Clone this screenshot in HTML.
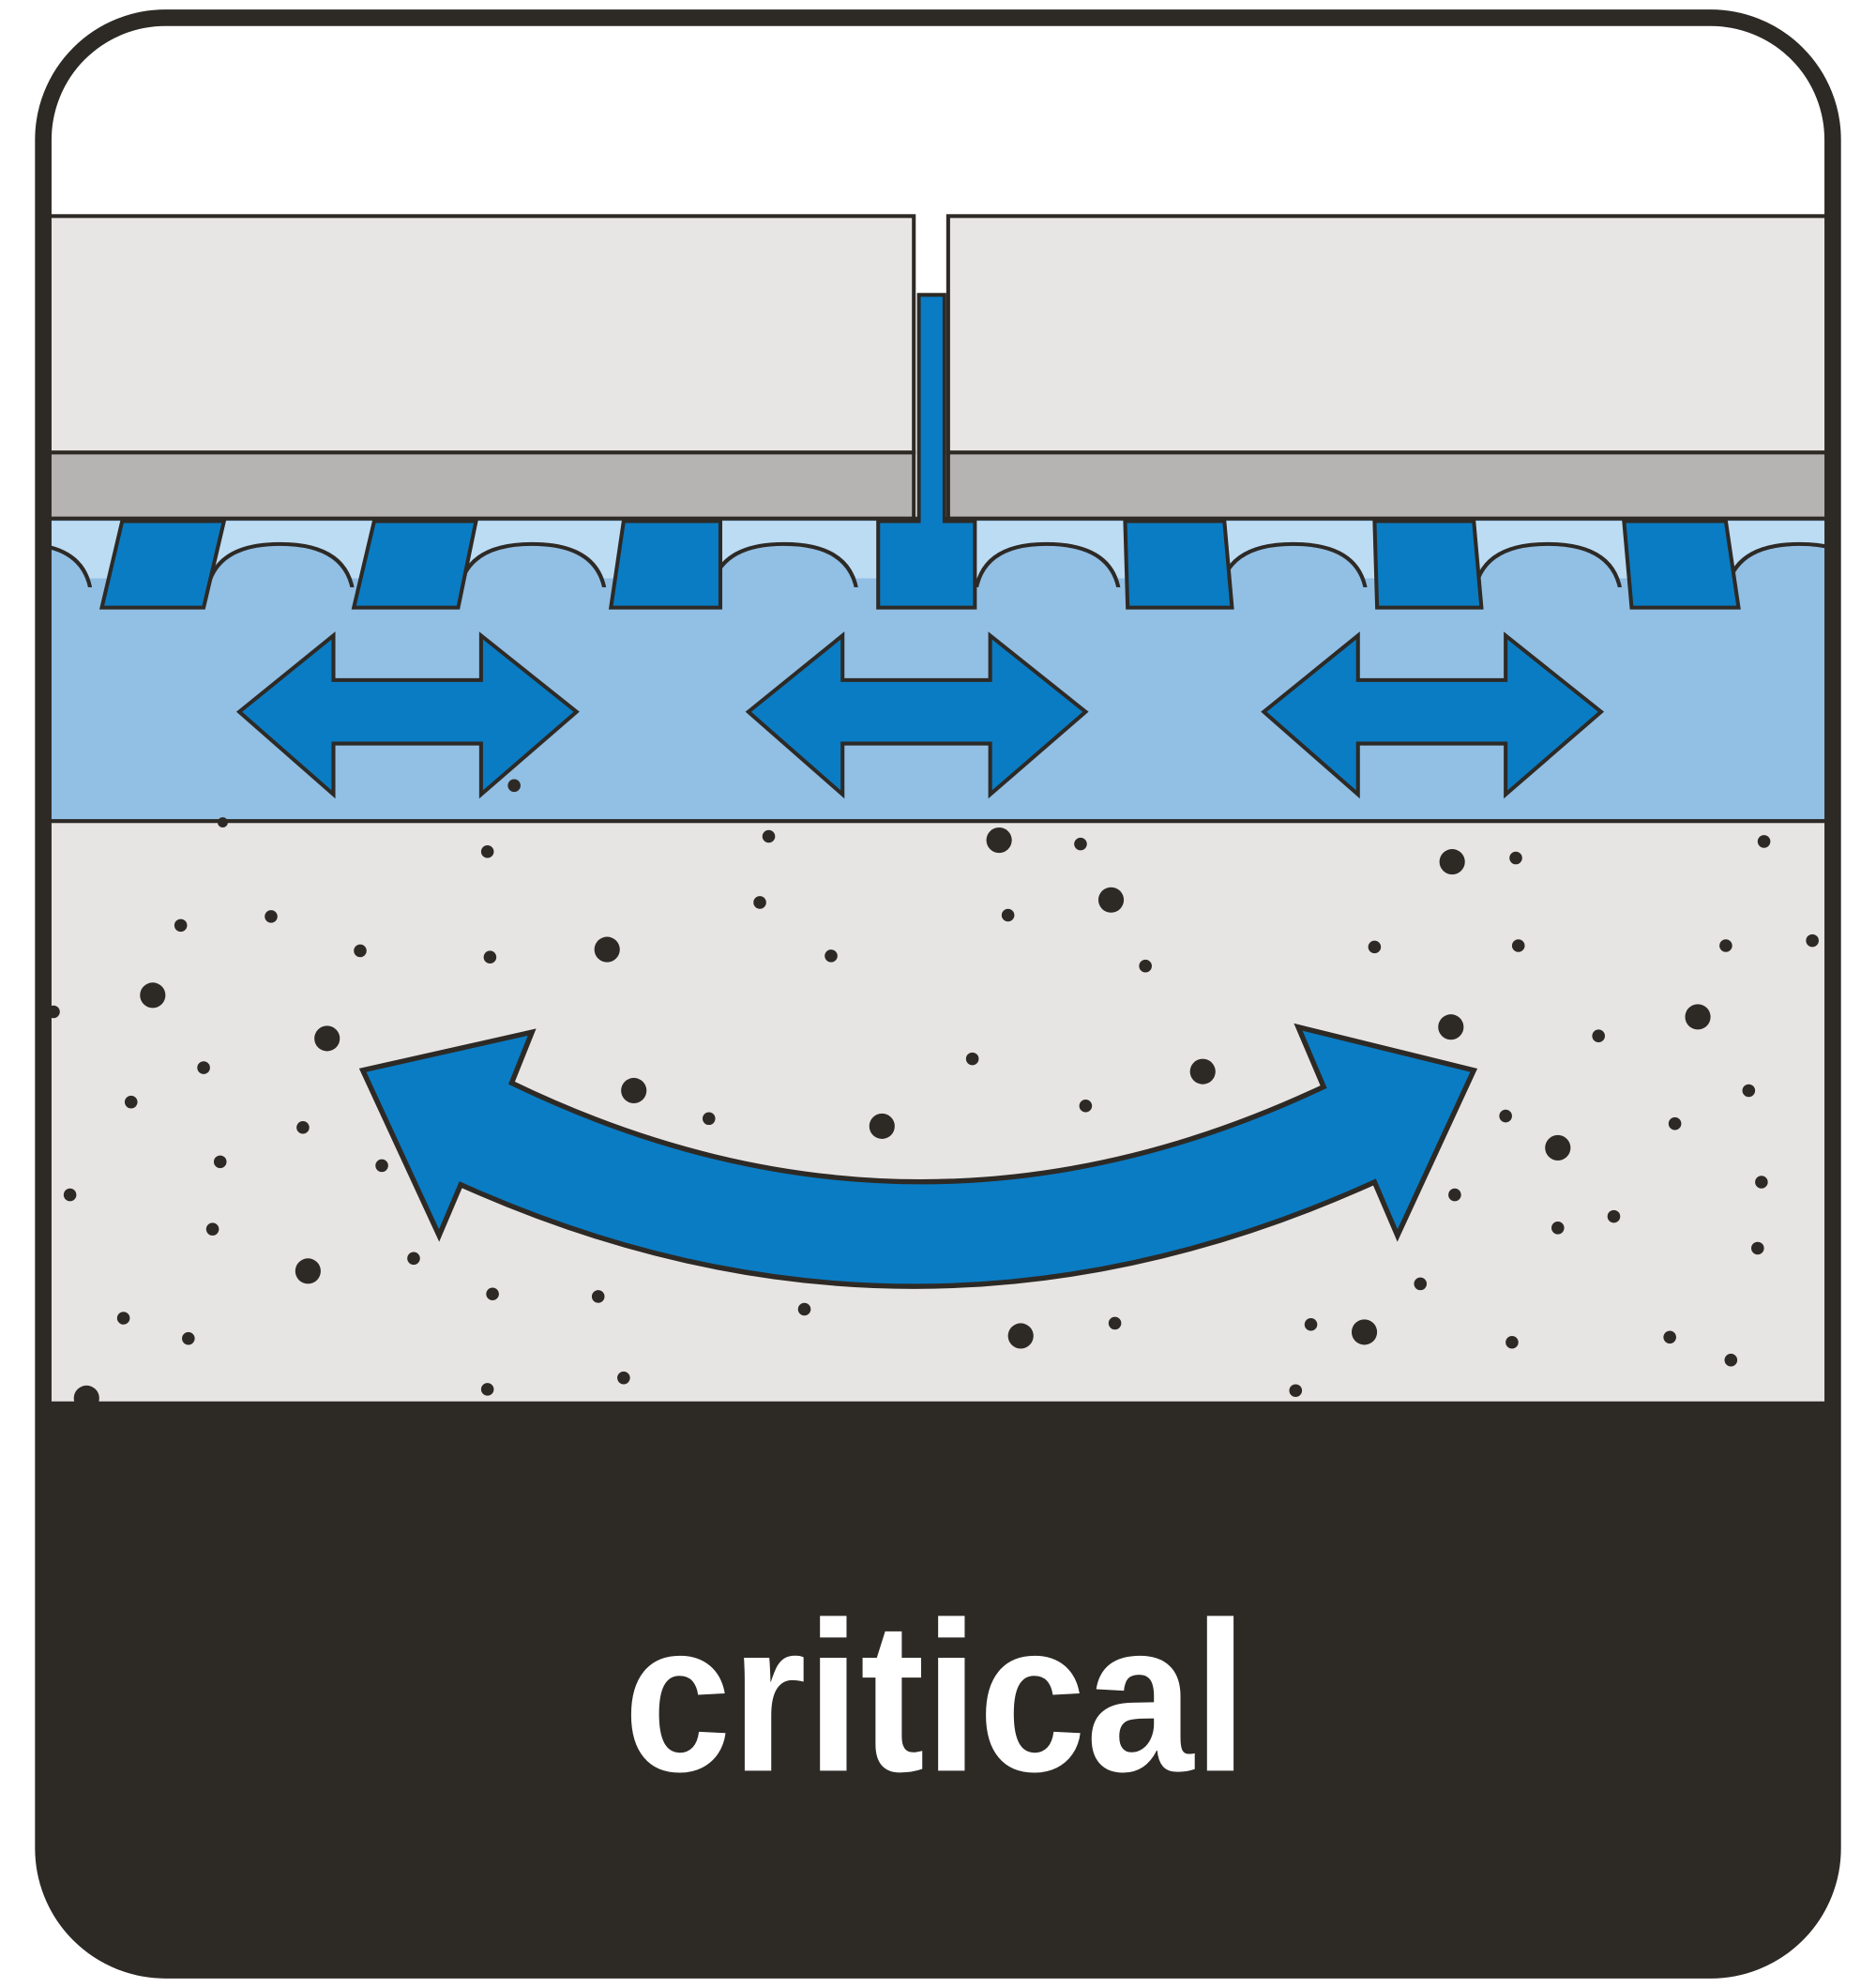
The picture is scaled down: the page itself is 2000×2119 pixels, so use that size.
<!DOCTYPE html>
<html><head><style>html,body{margin:0;padding:0;background:#fff;}svg{display:block;}</style></head>
<body>
<svg width="2000" height="2119" viewBox="0 0 1474 1564" preserveAspectRatio="none" xmlns="http://www.w3.org/2000/svg">
<defs>
<clipPath id="c"><rect x="34" y="14" width="1406" height="1536" rx="96"/></clipPath>
</defs>
<rect x="34" y="14" width="1406" height="1536" rx="96" fill="#fff"/>
<g clip-path="url(#c)">
<rect x="36" y="170" width="682" height="186" fill="#e8e6e5" stroke="#2d2a26" stroke-width="3"/>
<rect x="745" y="170" width="700" height="186" fill="#e8e6e5" stroke="#2d2a26" stroke-width="3"/>
<rect x="36" y="356" width="682" height="52" fill="#b6b4b3" stroke="#2d2a26" stroke-width="3"/>
<rect x="745" y="356" width="700" height="52" fill="#b6b4b3" stroke="#2d2a26" stroke-width="3"/>
<rect x="36" y="408" width="1410" height="238" fill="#92bfe4" stroke="#2d2a26" stroke-width="3"/>
<rect x="36" y="410" width="1410" height="45" fill="#bcdcf4"/>
<g fill="#92bfe4" stroke="#2d2a26" stroke-width="3">
<path d="M-40,475 Q-40,428 16,428 Q72,428 72,475 Z"/>
<path d="M162,475 Q162,428 220,428 Q278,428 278,475 Z"/>
<path d="M360,475 Q360,428 418,428 Q476,428 476,475 Z"/>
<path d="M558,475 Q558,428 616,428 Q674,428 674,475 Z"/>
<path d="M766,475 Q766,428 822,428 Q880,428 880,475 Z"/>
<path d="M958,475 Q958,428 1016,428 Q1074,428 1074,475 Z"/>
<path d="M1158,475 Q1158,428 1216,428 Q1274,428 1274,475 Z"/>
<path d="M1356,475 Q1356,428 1414,428 Q1472,428 1472,475 Z"/>
</g>
<rect x="36" y="462" width="1410" height="30" fill="#92bfe4"/>
<g fill="#0a7cc4" stroke="#2d2a26" stroke-width="3">
<path d="M96,410 L176,410 L160,478 L80,478 Z"/>
<path d="M294,410 L374,410 L360,478 L278,478 Z"/>
<path d="M490,410 L566,410 L566,478 L480,478 Z"/>
<path d="M884,410 L962,410 L968,478 L886,478 Z"/>
<path d="M1080,410 L1158,410 L1164,478 L1082,478 Z"/>
<path d="M1276,410 L1356,410 L1366,478 L1282,478 Z"/>
</g>
<path d="M722,232 L742,232 L742,410 L766,410 L766,478 L690,478 L690,410 L722,410 Z" fill="#0a7cc4" stroke="#2d2a26" stroke-width="3"/>
<rect x="723.5" y="234" width="17" height="180" fill="#0a7cc4"/>
<g fill="#0a7cc4" stroke="#2d2a26" stroke-width="3">
<path d="M188,560 L262,500 L262,535 L378,535 L378,500 L453,560 L378,625 L378,585 L262,585 L262,625 Z"/>
<path d="M588,560 L662,500 L662,535 L778,535 L778,500 L853,560 L778,625 L778,585 L662,585 L662,625 Z"/>
<path d="M993,560 L1067,500 L1067,535 L1183,535 L1183,500 L1258,560 L1183,625 L1183,585 L1067,585 L1067,625 Z"/>
</g>
<rect x="36" y="646" width="1410" height="458" fill="#e7e5e4" stroke="#2d2a26" stroke-width="3"/>
<g fill="#2d2a26">
<circle cx="785" cy="661" r="10"/><circle cx="1141" cy="678" r="10"/><circle cx="873" cy="708" r="10"/>
<circle cx="477" cy="747" r="10"/><circle cx="120" cy="783" r="10"/><circle cx="257" cy="817" r="10"/>
<circle cx="1140" cy="808" r="10"/><circle cx="1334" cy="800" r="10"/><circle cx="945" cy="843" r="10"/>
<circle cx="498" cy="858" r="10"/><circle cx="693" cy="886" r="10"/><circle cx="1224" cy="903" r="10"/>
<circle cx="242" cy="1000" r="10"/><circle cx="802" cy="1051" r="10"/><circle cx="1072" cy="1048" r="10"/>
<circle cx="68" cy="1100" r="10"/>
<circle cx="604" cy="658" r="5"/><circle cx="849" cy="664" r="5"/><circle cx="1191" cy="675" r="5"/><circle cx="1386" cy="662" r="5"/>
<circle cx="383" cy="670" r="5"/><circle cx="597" cy="710" r="5"/><circle cx="792" cy="720" r="5"/><circle cx="213" cy="721" r="5"/>
<circle cx="142" cy="728" r="5"/><circle cx="283" cy="748" r="5"/><circle cx="385" cy="753" r="5"/><circle cx="653" cy="752" r="5"/>
<circle cx="900" cy="760" r="5"/><circle cx="1080" cy="745" r="5"/><circle cx="1193" cy="744" r="5"/><circle cx="1356" cy="744" r="5"/>
<circle cx="1424" cy="740" r="5"/><circle cx="42" cy="796" r="5"/><circle cx="1256" cy="815" r="5"/><circle cx="764" cy="833" r="5"/>
<circle cx="160" cy="840" r="5"/><circle cx="1374" cy="858" r="5"/><circle cx="103" cy="867" r="5"/><circle cx="557" cy="880" r="5"/>
<circle cx="853" cy="870" r="5"/><circle cx="1183" cy="878" r="5"/><circle cx="238" cy="887" r="5"/><circle cx="1316" cy="884" r="5"/>
<circle cx="173" cy="914" r="5"/><circle cx="300" cy="917" r="5"/><circle cx="1384" cy="930" r="5"/><circle cx="55" cy="940" r="5"/>
<circle cx="1143" cy="940" r="5"/><circle cx="167" cy="967" r="5"/><circle cx="1224" cy="966" r="5"/><circle cx="1268" cy="957" r="5"/>
<circle cx="1381" cy="982" r="5"/><circle cx="325" cy="990" r="5"/><circle cx="387" cy="1018" r="5"/><circle cx="470" cy="1020" r="5"/>
<circle cx="1116" cy="1010" r="5"/><circle cx="632" cy="1030" r="5"/><circle cx="97" cy="1037" r="5"/><circle cx="876" cy="1041" r="5"/>
<circle cx="1030" cy="1042" r="5"/><circle cx="148" cy="1053" r="5"/><circle cx="1188" cy="1056" r="5"/><circle cx="1312" cy="1052" r="5"/>
<circle cx="1360" cy="1070" r="5"/><circle cx="490" cy="1084" r="5"/><circle cx="383" cy="1093" r="5"/><circle cx="1018" cy="1094" r="5"/>
<circle cx="404" cy="618" r="5"/><circle cx="175" cy="647" r="4"/>
</g>
<path d="M285,842 L418,812 L402,852 Q720,1006 1040,855 L1020,808 L1158,842 L1098,972 L1080,930 Q720,1093 362,932 L345,972 Z" fill="#0a7cc4" stroke="#2d2a26" stroke-width="4" stroke-linejoin="miter"/>
<rect x="30" y="1104" width="1420" height="460" fill="#2d2a26"/>
</g>
<rect x="34" y="14" width="1406" height="1536" rx="96" fill="none" stroke="#2d2a26" stroke-width="13"/>
<text x="490" y="1393" textLength="490" lengthAdjust="spacingAndGlyphs" font-family="Liberation Sans, sans-serif" font-weight="bold" font-size="168" fill="#fff">critical</text>
</svg>
</body></html>
